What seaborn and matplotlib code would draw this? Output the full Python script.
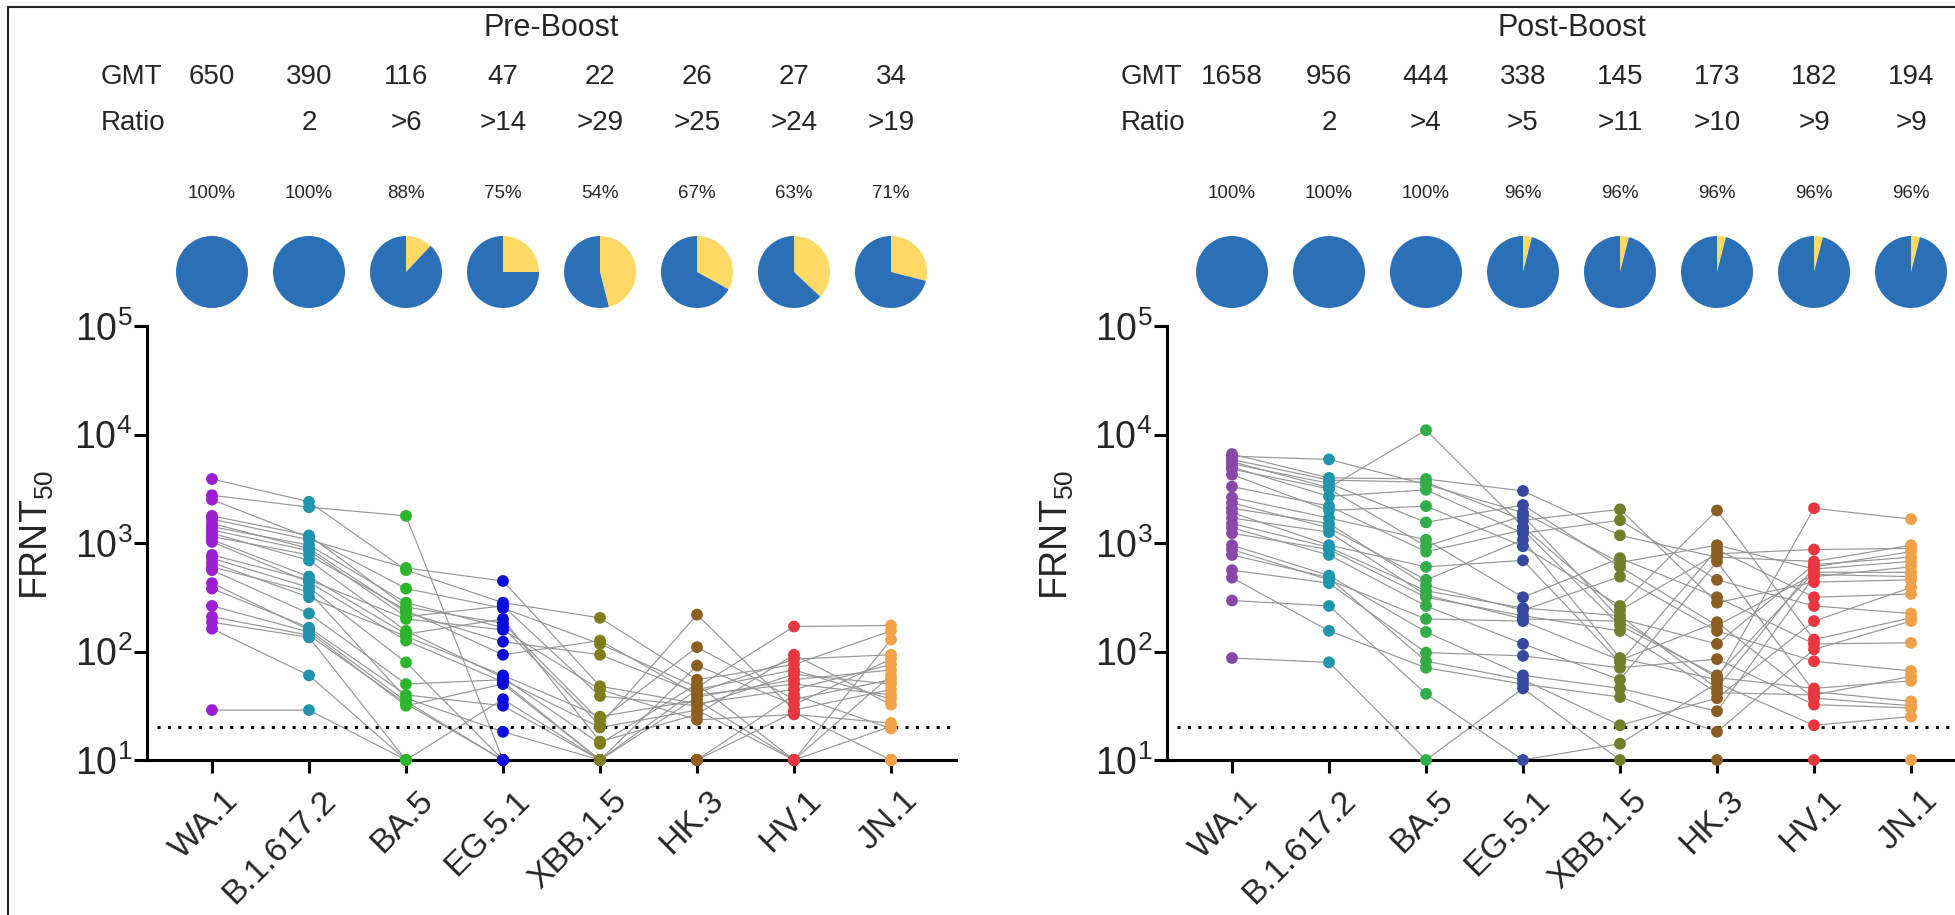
import numpy as np
import pandas as pd
import matplotlib
matplotlib.use('Agg')
import matplotlib.pyplot as plt
import seaborn as sns
from matplotlib import transforms
from matplotlib.lines import Line2D

# ---------------- data ----------------
variants = ['WA.1', 'B.1.617.2', 'BA.5', 'EG.5.1', 'XBB.1.5', 'HK.3', 'HV.1', 'JN.1']

pre_gmt = ['650', '390', '116', '47', '22', '26', '27', '34']
pre_ratio = ['', '2', '>6', '>14', '>29', '>25', '>24', '>19']
pre_pct = [100, 100, 88, 75, 54, 67, 63, 71]

post_gmt = ['1658', '956', '444', '338', '145', '173', '182', '194']
post_ratio = ['', '2', '>4', '>5', '>11', '>10', '>9', '>9']
post_pct = [100, 100, 100, 96, 96, 96, 96, 96]

# log10 FRNT50 values per variant, sorted high -> low (24 subjects)
pre_wa1 = [3.59, 3.44, 3.40, 3.25, 3.22, 3.18, 3.15, 3.12, 3.09, 3.06, 3.03, 3.01,
           2.89, 2.86, 2.82, 2.78, 2.75, 2.63, 2.58, 2.42, 2.32, 2.27, 2.21, 1.46]
pre_b16 = [3.38, 3.33, 3.07, 3.05, 3.03, 2.98, 2.95, 2.93, 2.89, 2.84, 2.69, 2.66,
           2.64, 2.59, 2.55, 2.50, 2.35, 2.22, 2.20, 2.18, 2.15, 2.13, 1.78, 1.46]
pre_ba5 = [3.25, 2.77, 2.75, 2.58, 2.45, 2.41, 2.38, 2.36, 2.32, 2.30, 2.19, 2.16,
           2.14, 2.10, 1.90, 1.70, 1.60, 1.57, 1.54, 1.52, 1.50, 1.00, 1.00, 1.00]
pre_eg5 = [2.65, 2.45, 2.42, 2.40, 2.30, 2.26, 2.22, 2.20, 2.09, 1.97, 1.78, 1.76,
           1.74, 1.72, 1.70, 1.56, 1.50, 1.26, 1.00, 1.00, 1.00, 1.00, 1.00, 1.00]
pre_xbb = [2.31, 2.10, 2.07, 1.97, 1.68, 1.65, 1.59, 1.40, 1.36, 1.32, 1.30, 1.17,
           1.15, 1.00, 1.00, 1.00, 1.00, 1.00, 1.00, 1.00, 1.00, 1.00, 1.00, 1.00]
pre_hk3 = [2.34, 2.04, 1.87, 1.74, 1.70, 1.67, 1.65, 1.62, 1.60, 1.58, 1.55, 1.52,
           1.50, 1.46, 1.42, 1.37, 1.00, 1.00, 1.00, 1.00, 1.00, 1.00, 1.00, 1.00]
pre_hv1 = [2.23, 1.97, 1.93, 1.88, 1.83, 1.79, 1.74, 1.70, 1.65, 1.60, 1.56, 1.51,
           1.46, 1.44, 1.42, 1.00, 1.00, 1.00, 1.00, 1.00, 1.00, 1.00, 1.00, 1.00]
pre_jn1 = [2.24, 2.19, 2.11, 1.97, 1.93, 1.88, 1.83, 1.78, 1.74, 1.70, 1.65, 1.60,
           1.56, 1.51, 1.34, 1.31, 1.29, 1.00, 1.00, 1.00, 1.00, 1.00, 1.00, 1.00]

post_wa1 = [3.82, 3.80, 3.77, 3.75, 3.73, 3.70, 3.68, 3.63, 3.52, 3.42, 3.37, 3.32,
            3.28, 3.23, 3.18, 3.14, 3.09, 2.98, 2.94, 2.89, 2.75, 2.68, 2.47, 1.94]
post_b16 = [3.77, 3.60, 3.58, 3.55, 3.51, 3.50, 3.43, 3.34, 3.30, 3.23, 3.18, 3.14,
            3.10, 2.98, 2.96, 2.94, 2.89, 2.70, 2.68, 2.66, 2.63, 2.42, 2.19, 1.90]
post_ba5 = [4.04, 3.59, 3.56, 3.54, 3.49, 3.34, 3.19, 3.03, 2.97, 2.92, 2.78, 2.66,
            2.61, 2.56, 2.52, 2.50, 2.42, 2.30, 2.18, 1.99, 1.91, 1.85, 1.61, 1.00]
post_eg5 = [3.48, 3.35, 3.28, 3.25, 3.21, 3.15, 3.12, 3.09, 3.03, 2.97, 2.84, 2.50,
            2.40, 2.38, 2.33, 2.30, 2.28, 2.07, 1.96, 1.78, 1.74, 1.70, 1.66, 1.00]
post_xbb = [3.31, 3.21, 3.07, 2.86, 2.82, 2.78, 2.69, 2.42, 2.38, 2.33, 2.30, 2.28,
            2.24, 2.19, 1.94, 1.92, 1.90, 1.85, 1.74, 1.66, 1.58, 1.32, 1.15, 1.00]
post_hk3 = [3.30, 2.98, 2.94, 2.90, 2.87, 2.83, 2.66, 2.50, 2.45, 2.27, 2.24, 2.19,
            2.07, 1.93, 1.78, 1.76, 1.74, 1.71, 1.66, 1.62, 1.57, 1.45, 1.26, 1.00]
post_hv1 = [3.32, 2.94, 2.83, 2.80, 2.78, 2.76, 2.73, 2.71, 2.69, 2.64, 2.50, 2.42,
            2.28, 2.11, 2.07, 2.02, 1.91, 1.66, 1.63, 1.60, 1.57, 1.51, 1.32, 1.00]
post_jn1 = [3.22, 2.98, 2.95, 2.92, 2.87, 2.83, 2.78, 2.73, 2.69, 2.66, 2.59, 2.53,
            2.35, 2.31, 2.28, 2.08, 1.82, 1.77, 1.73, 1.54, 1.50, 1.48, 1.40, 1.00]

# subject id holding each rank (pairing lines between variants)
pre_order = [
    list(range(24)),
    [0, 1, 3, 2, 4, 6, 5, 7, 9, 8, 10, 12, 11, 13, 15, 14, 16, 18, 17, 19, 20, 21, 22, 23],
    [1, 4, 0, 2, 6, 3, 9, 5, 7, 12, 8, 10, 14, 11, 13, 16, 18, 15, 17, 20, 19, 21, 23, 22],
    [4, 0, 7, 2, 10, 3, 6, 12, 5, 9, 14, 8, 16, 11, 19, 22, 18, 15, 1, 17, 20, 21, 13, 23],
    [0, 9, 2, 5, 4, 12, 7, 14, 3, 6, 16, 10, 8, 1, 11, 13, 15, 17, 18, 19, 20, 21, 22, 23],
    [6, 3, 11, 0, 8, 2, 13, 5, 9, 1, 14, 4, 7, 16, 10, 12, 15, 17, 18, 19, 20, 21, 22, 23],
    [2, 10, 5, 0, 13, 7, 1, 9, 4, 15, 3, 11, 6, 18, 12, 8, 14, 16, 17, 19, 20, 21, 22, 23],
    [2, 0, 8, 5, 11, 4, 1, 14, 3, 7, 6, 9, 13, 10, 12, 16, 15, 17, 18, 19, 20, 21, 22, 23],
]
post_order = [
    list(range(24)),
    [1, 0, 2, 4, 3, 6, 5, 8, 7, 9, 11, 10, 13, 12, 14, 16, 15, 17, 19, 18, 20, 22, 21, 23],
    [3, 0, 2, 1, 5, 7, 4, 9, 6, 8, 12, 10, 11, 14, 13, 16, 15, 18, 17, 20, 19, 21, 22, 23],
    [0, 4, 1, 6, 2, 3, 8, 5, 10, 7, 12, 9, 14, 11, 16, 13, 18, 15, 20, 17, 19, 21, 23, 22],
    [2, 5, 0, 9, 1, 4, 11, 7, 3, 14, 6, 13, 8, 16, 10, 18, 12, 20, 15, 17, 21, 19, 22, 23],
    [7, 1, 12, 3, 0, 15, 5, 9, 2, 18, 4, 11, 6, 20, 8, 13, 10, 22, 14, 16, 19, 17, 21, 23],
    [10, 3, 0, 6, 14, 1, 8, 4, 17, 2, 12, 5, 19, 7, 9, 21, 11, 13, 15, 16, 18, 20, 22, 23],
    [10, 0, 3, 14, 6, 1, 17, 8, 4, 2, 19, 12, 5, 7, 21, 9, 11, 16, 13, 15, 18, 20, 22, 23],
]

pre_vals = [pre_wa1, pre_b16, pre_ba5, pre_eg5, pre_xbb, pre_hk3, pre_hv1, pre_jn1]
post_vals = [post_wa1, post_b16, post_ba5, post_eg5, post_xbb, post_hk3, post_hv1, post_jn1]

pre_colors = ['#9a1fd2', '#2193aa', '#2db52d', '#0c0cdc', '#7e7e1c', '#8c5f1f', '#e8383f', '#f4a246']
post_colors = ['#8748a9', '#2096ad', '#31ae49', '#3649a0', '#707f2b', '#8a5d23', '#e8373f', '#f0a049']
pie_blue = '#2b70b6'
pie_yellow = '#ffd966'


def build_df(vals, orders):
    rows = []
    for j, v in enumerate(variants):
        for rank, subj in enumerate(orders[j]):
            rows.append(dict(subject=subj, variant=v, xpos=j, frnt50=10 ** vals[j][rank]))
    return pd.DataFrame(rows)


# ---------------- styling ----------------
sns.set_theme(style='white')
plt.rcParams['font.family'] = ['Liberation Sans', 'DejaVu Sans']
plt.rcParams['mathtext.fontset'] = 'custom'
plt.rcParams['mathtext.rm'] = 'Liberation Sans'
plt.rcParams['mathtext.it'] = 'Liberation Sans:italic'
plt.rcParams['mathtext.bf'] = 'Liberation Sans:bold'

W, H = 1955, 915
fig = plt.figure(figsize=(W / 100, H / 100), dpi=100)
fig.patch.set_facecolor('white')

AX_W = 809
AX_BOTTOM = 155
AX_H = 434
PIE_Y = 272
PIE_R = 36


def panel(left_px, title, df, colors, gmt, ratio, pct):
    ax = fig.add_axes([left_px / W, AX_BOTTOM / H, AX_W / W, AX_H / H])
    ax.set_facecolor('white')
    sns.lineplot(data=df, x='xpos', y='frnt50', units='subject', estimator=None,
                 color='#969696', lw=0.85, ax=ax, legend=False, zorder=1)
    sns.scatterplot(data=df, x='xpos', y='frnt50', hue='variant', hue_order=variants,
                    palette=colors, s=72, linewidth=0, ax=ax, legend=False,
                    zorder=4, clip_on=False)
    ax.set_yscale('log')
    ax.set_ylim(10, 1e5)
    ax.set_xlim(-0.67, 7.67)
    ax.minorticks_off()
    ax.set_yticks([10, 100, 1000, 1e4, 1e5])
    ax.axhline(20, color='black', lw=2.2, ls=(0, (1, 2.4)), xmin=10 / AX_W, zorder=2)

    ax.set_xticks(range(len(variants)))
    ax.set_xticklabels([])
    lab_tr = (transforms.blended_transform_factory(ax.transData, ax.transAxes)
              + transforms.ScaledTranslation(22 / 100, -36 / 100, fig.dpi_scale_trans))
    for j, v in enumerate(variants):
        ax.text(j, 0, v, transform=lab_tr, rotation=45, ha='right', va='center',
                rotation_mode='anchor', fontsize=24.5, clip_on=False)
    sns.despine(ax=ax)
    for s in ['left', 'bottom']:
        ax.spines[s].set_linewidth(2.2)
        ax.spines[s].set_color('black')
    ax.tick_params(axis='y', direction='out', length=9.5, width=2.2, color='black',
                   labelsize=27, pad=1, left=True)
    ax.tick_params(axis='x', direction='out', length=9, width=2.2, color='black',
                   bottom=True)
    ax.set_xlabel('')
    ax.set_ylabel(r'FRNT$_{\mathregular{50}}$', fontsize=27)
    ax.yaxis.set_label_coords(-0.112, 0.52)

    # header texts
    tr = transforms.blended_transform_factory(ax.transData, fig.transFigure)
    mid = (ax.get_xlim()[0] + ax.get_xlim()[1]) / 2
    ax.text(mid, 1 - 28 / H, title, transform=tr, ha='center', va='center', fontsize=22)
    ax.text(-1.15, 1 - 77 / H, 'GMT', transform=tr, ha='left', va='center', fontsize=20)
    ax.text(-1.15, 1 - 123 / H, 'Ratio', transform=tr, ha='left', va='center', fontsize=20)
    for j in range(len(variants)):
        ax.text(j, 1 - 77 / H, gmt[j], transform=tr, ha='center', va='center', fontsize=20)
        ax.text(j, 1 - 123 / H, ratio[j], transform=tr, ha='center', va='center', fontsize=20)
        ax.text(j, 1 - 193 / H, f'{pct[j]}%', transform=tr, ha='center', va='center', fontsize=13.5)

    # pies
    r = PIE_R
    for j in range(len(variants)):
        cx = ax.transData.transform((j, 10))[0]
        pax = fig.add_axes([(cx - r) / W, (H - PIE_Y - r) / H, 2 * r / W, 2 * r / H])
        pax.pie([100 - pct[j], pct[j]], colors=[pie_yellow, pie_blue], startangle=90,
                counterclock=False, radius=1, wedgeprops=dict(linewidth=0))
        pax.set_xlim(-1, 1)
        pax.set_ylim(-1, 1)
        pax.axis('off')
    return ax


df_pre = build_df(pre_vals, pre_order)
df_post = build_df(post_vals, post_order)

panel(147, 'Pre-Boost', df_pre, pre_colors, pre_gmt, pre_ratio, pre_pct)
panel(1167, 'Post-Boost', df_post, post_colors, post_gmt, post_ratio, post_pct)

# image frame (top and left edges)
fig.add_artist(Line2D([8 / W, 1], [1 - 7 / H, 1 - 7 / H], transform=fig.transFigure,
                      color='#222222', lw=1.5))
fig.add_artist(Line2D([8 / W, 8 / W], [0, 1 - 7 / H], transform=fig.transFigure,
                      color='#222222', lw=1.5))

fig.savefig('out.png', dpi=100)
